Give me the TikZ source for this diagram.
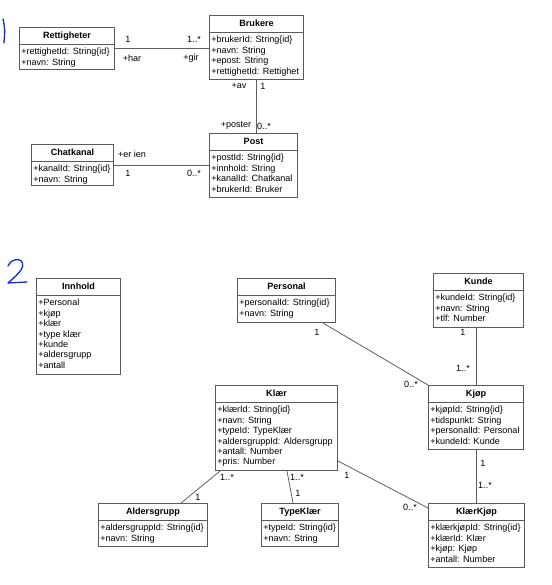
\documentclass[tikz,border=0pt]{standalone}
\usepackage{fontspec}
\setmainfont{Liberation Sans}
\usetikzlibrary{calc}

\definecolor{boxline}{RGB}{90,90,90}
\definecolor{assocline}{RGB}{95,95,95}
\definecolor{penblue}{RGB}{20,40,230}

\tikzset{
  umlbox/.style={draw=boxline, line width=0.8pt, anchor=north west, inner sep=0pt},
  umltitle/.style={font=\fontsize{6.8}{8}\selectfont\bfseries, inner sep=0pt},
  umlsep/.style={draw=boxline, line width=0.9pt},
  umlattr/.style={font=\fontsize{6.8}{7.8}\selectfont, align=left, anchor=north west, inner sep=0pt},
  assoc/.style={draw=assocline, line width=0.6pt},
  mult/.style={font=\fontsize{6.8}{8}\selectfont, inner sep=0pt},
  pen/.style={draw=penblue, line width=1pt, line cap=round, line join=round}
}

% name, left, top, width, height, title, attributes
\newcommand{\umlclass}[7]{%
  \node[umlbox, minimum width=#4*0.75pt, minimum height=#5*0.75pt] (#1) at (#2,#3) {};
  \node[umltitle] (#1-title) at ($(#1.north)+(0,8.75)$) {#6};
  \draw[umlsep] ($(#1.north west)+(0,17.5)$) -- ($(#1.north east)+(0,17.5)$);
  \node[umlattr] (#1-attrs) at ($(#1.north west)+(2,21)$) {#7};
}

\begin{document}
\begin{tikzpicture}[x=0.75pt, y=-0.75pt]
\useasboundingbox (0,0) rectangle (551,585);

% hand-written part numbers
\draw[pen] (3,19) .. controls (5,29) .. (4,43);
\draw[pen] (8,266) .. controls (12,256) and (28,258) .. (21,270)
  .. controls (16,276) .. (8,283) -- (27,282);

% part 1
\umlclass{rett}{19}{27}{95}{42}{Rettigheter}{+rettighetId: String\{id\}\\+navn: String}
\umlclass{brukere}{209}{15}{94}{64}{Brukere}{+brukerId: String\{id\}\\+navn: String\\+epost: String\\+rettighetId: Rettighet}
\umlclass{post}{209}{133}{88}{64}{Post}{+postId: String\{id\}\\+innhold: String\\+kanalId: Chatkanal\\+brukerId: Bruker}
\umlclass{chat}{31}{144}{82}{41}{Chatkanal}{+kanalId: String\{id\}\\+navn: String}

\draw[assoc] (rett.east) -- (brukere.west |- rett.east);
\draw[assoc] (brukere.south) -- (brukere.south |- post.north);
\draw[assoc] (chat.east) -- (post.west |- chat.east);

\node[mult] (m1) at (128,39) {1};
\node[mult] (m2) at (194,39) {1..*};
\node[mult] (m3) at (132,58) {+har};
\node[mult] (m4) at (191,58) {+gir};
\node[mult] (m5) at (239,86) {+av};
\node[mult] (m6) at (263,86) {1};
\node[mult] (m7) at (236,126) {+poster};
\node[mult] (m8) at (264,126) {0..*};
\node[mult] (m9) at (132,154) {+er ien};
\node[mult] (m10) at (128,173) {1};
\node[mult] (m11) at (194,173) {0..*};

% part 2
\umlclass{innhold}{36}{278}{84}{96}{Innhold}{+Personal\\+kjøp\\+klær\\+type klær\\+kunde\\+aldersgrupp\\+antall}
\umlclass{personal}{237}{278}{98}{44}{Personal}{+personalId: String\{id\}\\+navn: String}
\umlclass{kunde}{433}{273}{90}{54}{Kunde}{+kundeId: String\{id\}\\+navn: String\\+tlf: Number}
\umlclass{kjop}{428}{385}{95}{64}{Kjøp}{+kjøpId: String\{id\}\\+tidspunkt: String\\+personalId: Personal\\+kundeId: Kunde}
\umlclass{klaer}{215}{385}{122}{85}{Klær}{+klærId: String\{id\}\\+navn: String\\+typeId: TypeKlær\\+aldersgruppId: Aldersgrupp\\+antall: Number\\+pris: Number}
\umlclass{alders}{98}{503}{109}{43}{Aldersgrupp}{+aldersgruppId: String\{id\}\\+navn: String}
\umlclass{typek}{261}{503}{77}{43}{TypeKlær}{+typeId: String\{id\}\\+navn: String}
\umlclass{klkjop}{428}{503}{96}{64}{KlærKjøp}{+klærkjøpId: String\{id\}\\+klærId: Klær\\+kjøp: Kjøp\\+antall: Number}

\draw[assoc] ($(personal.south east)+(-13,0)$) -- (kjop.north west);
\draw[assoc] (kjop.north |- kunde.south) -- (kjop.north);
\draw[assoc] (kjop.south) -- (kjop.south |- klkjop.north);
\draw[assoc] ($(klaer.south west)+(5,0)$) -- ($(alders.north east)+(-27,0)$);
\draw[assoc] ($(klaer.south west)+(72,0)$) -- ($(typek.north west)+(32,0)$);
\draw[assoc] ($(klaer.south east)+(0,-10)$) -- ($(klkjop.north west)+(0,5)$);

\node[mult] (n1) at (317,332) {1};
\node[mult] (n2) at (411,384) {0..*};
\node[mult] (n3) at (463,332) {1};
\node[mult] (n4) at (463,368) {1..*};
\node[mult] (n5) at (483,463) {1};
\node[mult] (n6) at (485,485) {1..*};
\node[mult] (n7) at (227,477) {1..*};
\node[mult] (n8) at (198,497) {1};
\node[mult] (n9) at (297,477) {1..*};
\node[mult] (n10) at (298,493) {1};
\node[mult] (n11) at (347,475) {1};
\node[mult] (n12) at (410,507) {0..*};

\end{tikzpicture}
\end{document}
